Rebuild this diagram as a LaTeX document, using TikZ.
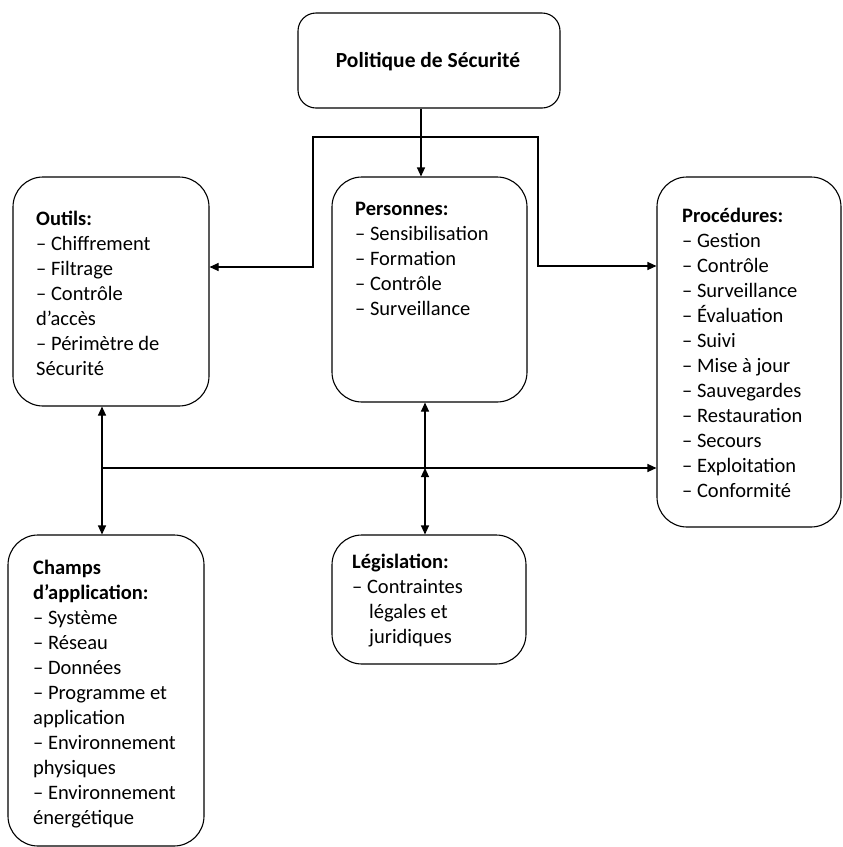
\documentclass[tikz,border=0pt]{standalone}
\usepackage{fontspec}
\setmainfont{Carlito}
\usetikzlibrary{arrows.meta}
\begin{document}
\begin{tikzpicture}[x=1pt,y=-1pt,
 box/.style={draw, line width=1.1pt, rounded corners=30pt, inner sep=0pt},
 tip/.tip={Triangle[length=9pt,width=8pt]},
 conn/.style={line width=1.1pt, -tip},
 dconn/.style={line width=1.1pt, tip-tip},
 txt/.style={anchor=base west, align=left, inner sep=0pt, font=\fontsize{20.5pt}{25pt}\selectfont}]
\useasboundingbox[fill=white] (0,0) rectangle (843,847);
% boxes
\node[box, rounded corners=18pt, minimum width=262pt, minimum height=95pt] (pol) at (429,60.5) {};
\node[box, minimum width=196pt, minimum height=229pt] (out) at (111,291.5) {};
\node[box, minimum width=195pt, minimum height=225pt] (per) at (429.5,289.5) {};
\node[box, minimum width=184pt, minimum height=350pt] (pro) at (749,352) {};
\node[box, minimum width=196pt, minimum height=311pt] (cha) at (106,690.5) {};
\node[box, minimum width=194pt, minimum height=129pt] (leg) at (429,599.5) {};
% texts (anchored at the baseline of their last line)
\node[anchor=base, inner sep=0pt, font=\fontsize{21.5pt}{26pt}\selectfont] (tpol) at (428,67) {\textbf{Politique de Sécurité}};
\node[txt] (tout) at (36,375) {\textbf{Outils:}\\– Chiffrement\\– Filtrage\\– Contrôle\\d’accès\\– Périmètre de\\Sécurité};
\node[txt] (tper) at (355,315) {\textbf{Personnes:}\\– Sensibilisation\\– Formation\\– Contrôle\\– Surveillance};
\node[txt] (tpro) at (682,497) {\textbf{Procédures:}\\– Gestion\\– Contrôle\\– Surveillance\\– Évaluation\\– Suivi\\– Mise à jour\\– Sauvegardes\\– Restauration\\– Secours\\– Exploitation\\– Conformité};
\node[txt] (tcha) at (33,824) {\textbf{Champs}\\\textbf{d’application:}\\– Système\\– Réseau\\– Données\\– Programme et\\application\\– Environnement\\physiques\\– Environnement\\énergétique};
\node[txt] (tleg) at (352,643) {\textbf{Législation:}\\– Contraintes\\\hspace*{17pt}légales et\\\hspace*{17pt}juridiques};
% connectors
\coordinate (a) at (421,0);
\draw[conn] (pol.south -| a) -- (per.north -| a);
\coordinate (tl) at (313,137);
\coordinate (tr) at (538,137);
\coordinate (jl) at (313,267);
\coordinate (jr) at (538,266);
\draw[dconn] (out.east |- jl) -- (jl) -- (tl) -- (tr) -- (jr) -- (pro.west |- jr);
\coordinate (h) at (102,468);
\coordinate (c) at (425,468);
\draw[conn] (h) -- (pro.west |- h);
\draw[dconn] (out.south -| h) -- (cha.north -| h);
\draw[conn] (c) -- (per.south -| c);
\draw[dconn] (leg.north -| c) -- (c);
\end{tikzpicture}
\end{document}
